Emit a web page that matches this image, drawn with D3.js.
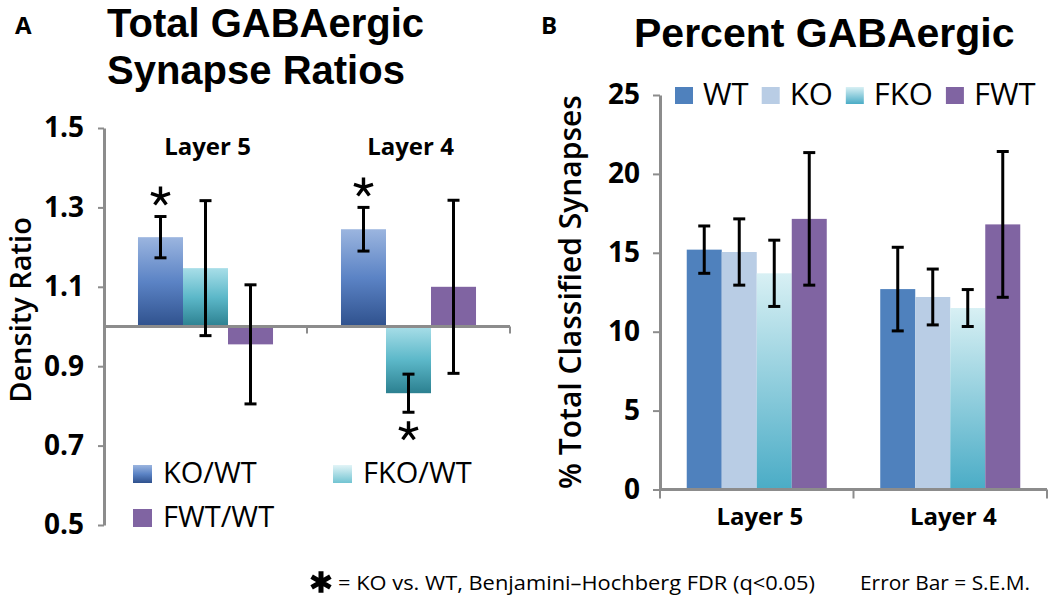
<!DOCTYPE html>
<html>
<head>
<meta charset="utf-8">
<script src="https://cdn.jsdelivr.net/npm/d3@7"></script>
<style>
  body { margin: 0; background: #fff; }
  text { font-family: "Open Sans", sans-serif; fill: #000; }
  text.title { font-family: "Liberation Sans", Arial, sans-serif; font-weight: 700; }
</style>
</head>
<body>
<svg id="chart" width="1050" height="597"></svg>
<script>
var layers = ['Layer 5', 'Layer 4'];

// panel A - density ratios against WT
var ratioSeries = ['KO/WT', 'FKO/WT', 'FWT/WT'];
var koWtRatio = [1.225, 1.245];
var koWtSem = [0.052, 0.055];
var fkoWtRatio = [1.147, 0.832];
var fkoWtSem = [0.17, 0.048];
var fwtWtRatio = [0.955, 1.10];
var fwtWtSem = [0.15, 0.218];
var ratioTicks = [0.5, 0.7, 0.9, 1.1, 1.3, 1.5];
var ratioStars = [[0, 0], [1, 0], [1, 1]]; // [layer index, series index]

// panel B - percent GABAergic
var genotypes = ['WT', 'KO', 'FKO', 'FWT'];
var wtPct = [15.2, 12.7];
var wtSem = [1.5, 2.65];
var koPct = [15.05, 12.2];
var koSem = [2.1, 1.77];
var fkoPct = [13.7, 11.5];
var fkoSem = [2.1, 1.17];
var fwtPct = [17.15, 16.8];
var fwtSem = [4.2, 4.62];
var pctTicks = [0, 5, 10, 15, 20, 25];

var svg = d3.select('#chart');
var axisColor = '#8c8c8c';

// gradients
var defs = svg.append('defs');
function gradient(id, stops) {
  var g = defs.append('linearGradient').attr('id', id)
    .attr('x1', 0).attr('y1', 0).attr('x2', 0).attr('y2', 1);
  stops.forEach(function(s) {
    g.append('stop').attr('offset', s[0]).attr('stop-color', s[1]);
  });
}
gradient('gKo', [[0, '#9bb5df'], [0.5, '#5b83c5'], [1, '#2f518d']]);
gradient('gFko', [[0, '#a8dee8'], [0.5, '#5cb8c9'], [1, '#2c8090']]);
gradient('gFkoLeg', [[0, '#e2f4f7'], [1, '#72c4d2']]);
gradient('gFkoB', [[0, '#d8f0f4'], [1, '#4aacc6']]);

var fillA = { 'KO/WT': 'url(#gKo)', 'FKO/WT': 'url(#gFko)', 'FWT/WT': '#8064a2' };
var legFillA = { 'KO/WT': 'url(#gKo)', 'FKO/WT': 'url(#gFkoLeg)', 'FWT/WT': '#8064a2' };
var fillB = { 'WT': '#4f81bd', 'KO': '#b9cde5', 'FKO': 'url(#gFkoB)', 'FWT': '#8064a2' };

// 5 armed asterisk like the one in the figure font
var asterisk5 = {
  draw: function(context, size) {
    var r = Math.sqrt(size) / 2;
    for (var k = 0; k < 5; k++) {
      var a = -Math.PI / 2 + k * 2 * Math.PI / 5;
      context.moveTo(0, 0);
      context.lineTo(r * Math.cos(a), r * Math.sin(a));
    }
  }
};

function styleAxis(g, size) {
  g.select('.domain').attr('stroke', axisColor).attr('stroke-width', 3);
  g.selectAll('.tick line').attr('stroke', axisColor).attr('stroke-width', 2);
  g.selectAll('.tick text')
    .style('font-size', size + 'px').style('font-weight', 700);
}

function errorBars(g, rows, xPos, y, cap) {
  var eb = g.selectAll('.err').data(rows).enter().append('g').attr('class', 'err')
    .attr('stroke', '#000').attr('stroke-width', 3);
  eb.append('line')
    .attr('x1', xPos).attr('x2', xPos)
    .attr('y1', function(d) { return y(d.v + d.e); })
    .attr('y2', function(d) { return y(d.v - d.e); });
  eb.append('line')
    .attr('x1', function(d) { return xPos(d) - cap; })
    .attr('x2', function(d) { return xPos(d) + cap; })
    .attr('y1', function(d) { return y(d.v + d.e); })
    .attr('y2', function(d) { return y(d.v + d.e); });
  eb.append('line')
    .attr('x1', function(d) { return xPos(d) - cap; })
    .attr('x2', function(d) { return xPos(d) + cap; })
    .attr('y1', function(d) { return y(d.v - d.e); })
    .attr('y2', function(d) { return y(d.v - d.e); });
}

// ---------- panel A ----------
var ratioMeans = [koWtRatio, fkoWtRatio, fwtWtRatio];
var ratioSems = [koWtSem, fkoWtSem, fwtWtSem];
var rowsA = [];
layers.forEach(function(l, i) {
  ratioSeries.forEach(function(s, j) {
    rowsA.push({ layer: l, key: s, v: ratioMeans[j][i], e: ratioSems[j][i] });
  });
});

var xA0 = d3.scaleBand().domain(layers).range([104, 510]);
var xA1 = d3.scaleBand().domain(ratioSeries).range([0, xA0.bandwidth()]).paddingOuter(0.755);
var yA = d3.scaleLinear().domain([0.5, 1.5]).range([525, 128]);
var xPosA = function(d) { return xA0(d.layer) + xA1(d.key) + xA1.bandwidth() / 2; };

var gA = svg.append('g');

gA.append('text').attr('x', 15).attr('y', 34)
  .style('font-size', '24px').style('font-weight', 700).text('A');
var titleA = gA.append('text').attr('class', 'title')
  .attr('x', 107).attr('y', 37).style('font-size', '40px');
titleA.append('tspan').attr('x', 107).text('Total GABAergic');
titleA.append('tspan').attr('x', 107).attr('dy', 47).text('Synapse Ratios');

gA.selectAll('.bar').data(rowsA).enter().append('rect').attr('class', 'bar')
  .attr('x', function(d) { return xA0(d.layer) + xA1(d.key); })
  .attr('width', xA1.bandwidth())
  .attr('y', function(d) { return yA(Math.max(d.v, 1)); })
  .attr('height', function(d) { return Math.abs(yA(d.v) - yA(1)); })
  .attr('fill', function(d) { return fillA[d.key]; });

var yAxisA = gA.append('g').attr('transform', 'translate(104,0)')
  .call(d3.axisLeft(yA).tickValues(ratioTicks).tickFormat(d3.format('.1f'))
    .tickSize(6).tickSizeOuter(0).tickPadding(14));
styleAxis(yAxisA, 28);

// category axis crossing at ratio 1
gA.append('line').attr('x1', 104).attr('x2', 510)
  .attr('y1', yA(1)).attr('y2', yA(1))
  .attr('stroke', axisColor).attr('stroke-width', 3);
gA.selectAll('.ctick').data(layers).enter().append('line')
  .attr('x1', function(l) { return xA0(l) + xA0.step(); })
  .attr('x2', function(l) { return xA0(l) + xA0.step(); })
  .attr('y1', yA(1)).attr('y2', yA(1) + 7)
  .attr('stroke', axisColor).attr('stroke-width', 2);

gA.selectAll('.layerLab').data(layers).enter().append('text')
  .attr('x', function(l) { return xA0(l) + xA0.bandwidth() / 2 + 2; })
  .attr('y', 155).attr('text-anchor', 'middle')
  .style('font-size', '24px').style('font-weight', 700)
  .text(function(l) { return l; });

errorBars(gA, rowsA, xPosA, yA, 6);

gA.selectAll('.star').data(ratioStars).enter().append('path')
  .attr('d', d3.symbol().type(asterisk5).size(400))
  .attr('transform', function(p) {
    var d = rowsA[p[0] * ratioSeries.length + p[1]];
    var yy = d.v >= 1 ? yA(d.v + d.e) - 20 : yA(d.v - d.e) + 19;
    return 'translate(' + xPosA(d) + ',' + yy + ')';
  })
  .attr('stroke', '#000').attr('stroke-width', 3.4).attr('fill', 'none');

gA.append('text')
  .attr('transform', 'translate(31,310) rotate(-90)')
  .attr('text-anchor', 'middle')
  .style('font-size', '29px').style('font-weight', 600)
  .text('Density Ratio');

// legend A
var legA = [
  { key: 'KO/WT', x: 133, y: 465 },
  { key: 'FKO/WT', x: 333, y: 465 },
  { key: 'FWT/WT', x: 133, y: 509 }
];
var la = gA.selectAll('.legA').data(legA).enter().append('g')
  .attr('transform', function(d) { return 'translate(' + d.x + ',' + d.y + ')'; });
la.append('rect').attr('width', 19).attr('height', 18)
  .attr('fill', function(d) { return legFillA[d.key]; });
la.append('text').attr('x', 30).attr('y', 18)
  .style('font-size', '29px')
  .text(function(d) { return d.key; });

// ---------- panel B ----------
var pctMeans = [wtPct, koPct, fkoPct, fwtPct];
var pctSems = [wtSem, koSem, fkoSem, fwtSem];
var rowsB = [];
layers.forEach(function(l, i) {
  genotypes.forEach(function(s, j) {
    rowsB.push({ layer: l, key: s, v: pctMeans[j][i], e: pctSems[j][i] });
  });
});

var xB0 = d3.scaleBand().domain(layers).range([660, 1047]);
var xB1 = d3.scaleBand().domain(genotypes).range([0, xB0.bandwidth()]).paddingOuter(0.764);
var yB = d3.scaleLinear().domain([0, 25]).range([489.5, 95]);
var xPosB = function(d) { return xB0(d.layer) + xB1(d.key) + xB1.bandwidth() / 2; };

var gB = svg.append('g');

gB.append('text').attr('x', 541).attr('y', 34)
  .style('font-size', '24px').style('font-weight', 700).text('B');
gB.append('text').attr('class', 'title').attr('x', 634).attr('y', 47)
  .style('font-size', '41px').text('Percent GABAergic');

gB.selectAll('.bar').data(rowsB).enter().append('rect').attr('class', 'bar')
  .attr('x', function(d) { return xB0(d.layer) + xB1(d.key); })
  .attr('width', xB1.bandwidth())
  .attr('y', function(d) { return yB(d.v); })
  .attr('height', function(d) { return yB(0) - yB(d.v); })
  .attr('fill', function(d) { return fillB[d.key]; });

var yAxisB = gB.append('g').attr('transform', 'translate(660,0)')
  .call(d3.axisLeft(yB).tickValues(pctTicks).tickSize(7).tickSizeOuter(0).tickPadding(13));
styleAxis(yAxisB, 28);

gB.append('line').attr('x1', 660).attr('x2', 1047)
  .attr('y1', yB(0)).attr('y2', yB(0))
  .attr('stroke', axisColor).attr('stroke-width', 3);
gB.selectAll('.ctick').data([xB0.range()[0]].concat(layers.map(function(l) { return xB0(l) + xB0.step(); })))
  .enter().append('line')
  .attr('x1', function(x) { return x; }).attr('x2', function(x) { return x; })
  .attr('y1', yB(0)).attr('y2', yB(0) + 9)
  .attr('stroke', axisColor).attr('stroke-width', 2);

gB.selectAll('.layerLab').data(layers).enter().append('text')
  .attr('x', function(l) { return xB0(l) + xB0.bandwidth() / 2 + 3; })
  .attr('y', 525).attr('text-anchor', 'middle')
  .style('font-size', '24px').style('font-weight', 700)
  .text(function(l) { return l; });

errorBars(gB, rowsB, xPosB, yB, 6);

gB.append('text')
  .attr('transform', 'translate(581,292) rotate(-90)')
  .attr('text-anchor', 'middle')
  .style('font-size', '30px').style('font-weight', 600)
  .text('% Total Classified Synapses');

// legend B, laid out from text widths
var legX = 675;
genotypes.forEach(function(k) {
  var g = gB.append('g').attr('transform', 'translate(' + legX + ',87)');
  g.append('rect').attr('width', 18).attr('height', 17).attr('fill', fillB[k]);
  var t = g.append('text').attr('x', 28).attr('y', 18)
    .style('font-size', '31px').text(k);
  legX += 28 + t.node().getComputedTextLength() + 13;
});

// ---------- footnote ----------
svg.append('path')
  .attr('d', d3.symbol().type(d3.symbolAsterisk).size(330))
  .attr('transform', 'translate(321,582)')
  .attr('stroke', '#000').attr('stroke-width', 5).attr('fill', 'none');
svg.append('text').attr('x', 338).attr('y', 590)
  .attr('textLength', 477).attr('lengthAdjust', 'spacingAndGlyphs')
  .style('font-size', '20px')
  .text('= KO vs. WT, Benjamini\u2013Hochberg FDR (q<0.05)');
svg.append('text').attr('x', 860).attr('y', 590)
  .attr('textLength', 170).attr('lengthAdjust', 'spacingAndGlyphs')
  .style('font-size', '20px')
  .text('Error Bar = S.E.M.');
</script>
</body>
</html>
